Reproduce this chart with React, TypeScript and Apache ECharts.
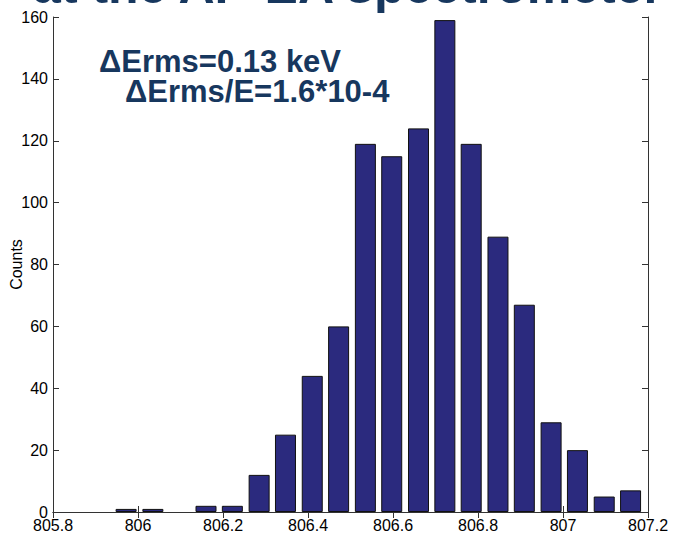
import React, { useEffect, useRef } from "react";
import * as echarts from "echarts";

const binCenters = [
  805.972, 806.035, 806.097, 806.16, 806.222, 806.285, 806.347, 806.41, 806.472, 806.535,
  806.597, 806.66, 806.722, 806.784, 806.847, 806.909, 806.972, 807.034, 807.097, 807.159,
];
const counts = [1, 1, 0, 2, 2, 12, 25, 44, 60, 119, 115, 124, 159, 119, 89, 67, 29, 20, 5, 7];
const xTicks = { min: 805.8, max: 807.2, interval: 0.2 };
const yTicks = { min: 0, max: 160, interval: 20 };
const yName = "Counts";
const note1 = "ΔErms=0.13 keV";
const note2 = "ΔErms/E=1.6*10-4";
const title = "at the AP-EA spectrometer";

export default function App() {
  const ref = useRef<HTMLDivElement>(null);
  useEffect(() => {
    if (!ref.current) return;
    const chart = echarts.init(ref.current, null, { renderer: "svg" });
    const font = "'Liberation Sans', Arial, Helvetica, sans-serif";
    const axisLine = { show: true, lineStyle: { color: "#333", width: 1 } };
    const tick = { show: true, inside: true, length: 6, lineStyle: { color: "#333" } };
    const fmtX = (v: number) => String(parseFloat(v.toFixed(1)));
    const data = binCenters.map((x, i) => [x, counts[i] > 0 ? counts[i] : null]);
    chart.setOption({
      animation: false,
      textStyle: { fontFamily: font },
      grid: {
        left: 53,
        right: 44,
        top: 17,
        bottom: 35,
        containLabel: false,
        outerBoundsMode: "none",
      },
      xAxis: [
        {
          type: "value",
          position: "bottom",
          min: xTicks.min,
          max: xTicks.max,
          interval: xTicks.interval,
          axisLine,
          axisTick: tick,
          splitLine: { show: false },
          axisLabel: { formatter: fmtX, color: "#000", fontSize: 16, margin: 5, fontFamily: font },
        },
        {
          type: "value",
          position: "top",
          min: xTicks.min,
          max: xTicks.max,
          interval: xTicks.interval,
          axisLine,
          axisTick: tick,
          splitLine: { show: false },
          axisLabel: { show: false },
        },
      ],
      yAxis: [
        {
          type: "value",
          position: "left",
          min: yTicks.min,
          max: yTicks.max,
          interval: yTicks.interval,
          axisLine,
          axisTick: tick,
          splitLine: { show: false },
          axisLabel: { color: "#000", fontSize: 16, margin: 5, fontFamily: font },
          name: yName,
          nameLocation: "middle",
          nameRotate: 90,
          nameGap: 29,
          nameMoveOverlap: false,
          nameTextStyle: { color: "#000", fontSize: 16, fontFamily: font },
        },
        {
          type: "value",
          position: "right",
          min: yTicks.min,
          max: yTicks.max,
          interval: yTicks.interval,
          axisLine,
          axisTick: tick,
          splitLine: { show: false },
          axisLabel: { show: false },
        },
      ],
      series: [
        {
          type: "bar",
          data,
          barWidth: 21,
          itemStyle: { color: "#2b2a7e", borderColor: "#111", borderWidth: 1 },
        },
      ],
      graphic: [
        {
          type: "text",
          x: 348,
          y: -14,
          z: 10,
          style: {
            text: title,
            font: `bold 50px ${font}`,
            fill: "#17375e",
            align: "center",
            verticalAlign: "middle",
            shadowColor: "rgba(0,0,0,0.35)",
            shadowBlur: 3,
            shadowOffsetX: 2,
            shadowOffsetY: 2,
          },
        },
        {
          type: "text",
          x: 99,
          y: 61,
          z: 10,
          style: {
            text: note1,
            font: `bold 31px ${font}`,
            fill: "#17375e",
            verticalAlign: "middle",
            shadowColor: "rgba(0,0,0,0.3)",
            shadowBlur: 3,
            shadowOffsetX: 2,
            shadowOffsetY: 2,
          },
        },
        {
          type: "text",
          x: 125,
          y: 91,
          z: 10,
          style: {
            text: note2,
            font: `bold 31px ${font}`,
            fill: "#17375e",
            verticalAlign: "middle",
            shadowColor: "rgba(0,0,0,0.3)",
            shadowBlur: 3,
            shadowOffsetX: 2,
            shadowOffsetY: 2,
          },
        },
      ],
    });
    return () => chart.dispose();
  }, []);
  return (
    <div
      ref={ref}
      style={{ position: "fixed", left: 0, top: 0, width: 692, height: 547, background: "#fff" }}
    />
  );
}
